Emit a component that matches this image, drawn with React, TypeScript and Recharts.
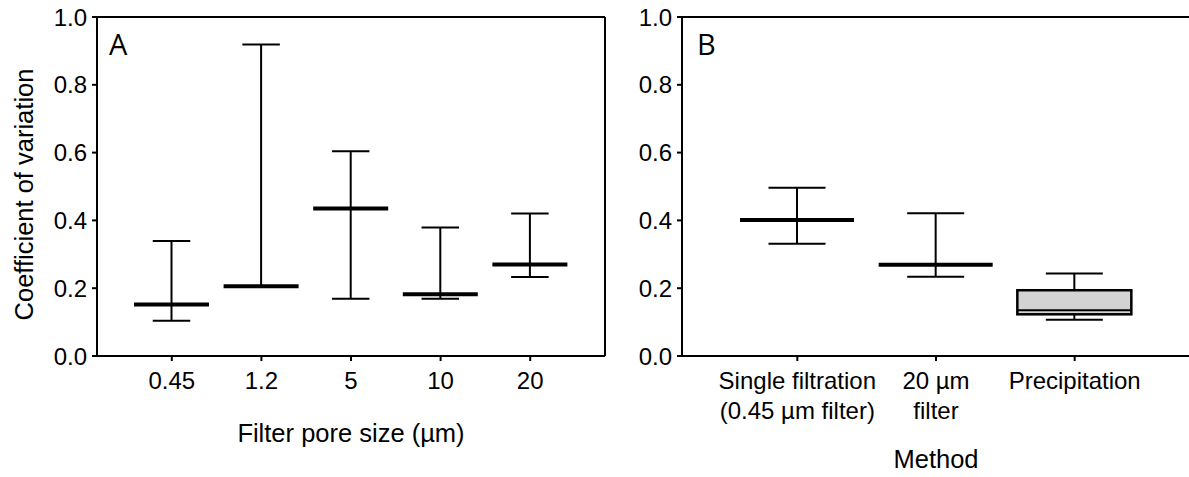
import { ComposedChart, Bar, XAxis, YAxis } from 'recharts';

// Panel A: filter pore size
const poreSizes = ['0.45', '1.2', '5', '10', '20'];
const poreMin = [0.104, 0.206, 0.169, 0.169, 0.233];
const poreQ1 = [0.152, 0.206, 0.435, 0.182, 0.27];
const poreMedian = [0.152, 0.206, 0.435, 0.182, 0.27];
const poreQ3 = [0.152, 0.206, 0.435, 0.182, 0.27];
const poreMax = [0.339, 0.919, 0.604, 0.379, 0.42];

// Panel B: method
const methods = ['Single filtration\n(0.45 µm filter)', '20 µm\nfilter', 'Precipitation'];
const methodMin = [0.331, 0.234, 0.107];
const methodQ1 = [0.401, 0.269, 0.123];
const methodMedian = [0.401, 0.269, 0.135];
const methodQ3 = [0.401, 0.269, 0.194];
const methodMax = [0.496, 0.421, 0.243];

const yTicks = [0, 0.2, 0.4, 0.6, 0.8, 1.0];

const INK = '#000';
const BOX_FILL = '#d3d3d3';
const TICK_FONT = 24;
const TITLE_FONT = 25.5;
const axisLine = { stroke: INK, strokeWidth: 2 };

function buildRows(names: string[], min: number[], q1: number[], med: number[], q3: number[], max: number[]) {
  return names.map((name, i) => ({
    name,
    range: [min[i], max[i]],
    min: min[i],
    q1: q1[i],
    median: med[i],
    q3: q3[i],
    max: max[i],
  }));
}

const poreRows = buildRows(poreSizes, poreMin, poreQ1, poreMedian, poreQ3, poreMax);
const methodRows = buildRows(methods, methodMin, methodQ1, methodMedian, methodQ3, methodMax);

// box + whiskers drawn inside the min..max range bar recharts gives us
function BoxShape(props: any) {
  const { x, y, width, height, payload } = props;
  const top = Math.min(y, y + height);
  const bottom = Math.max(y, y + height);
  const span = payload.max - payload.min;
  const py = (v: number) => (span === 0 ? bottom : bottom - ((v - payload.min) / span) * (bottom - top));
  const cx = x + width / 2;
  const cap = width * 0.5;
  const collapsed = payload.q3 === payload.q1;
  return (
    <g>
      <line x1={cx} x2={cx} y1={py(payload.max)} y2={py(payload.q3)} stroke={INK} strokeWidth={2} />
      <line x1={cx} x2={cx} y1={py(payload.q1)} y2={py(payload.min)} stroke={INK} strokeWidth={2} />
      <line x1={cx - cap / 2} x2={cx + cap / 2} y1={py(payload.max)} y2={py(payload.max)} stroke={INK} strokeWidth={2} />
      <line x1={cx - cap / 2} x2={cx + cap / 2} y1={py(payload.min)} y2={py(payload.min)} stroke={INK} strokeWidth={2} />
      {!collapsed && (
        <rect
          x={x}
          y={py(payload.q3)}
          width={width}
          height={py(payload.q1) - py(payload.q3)}
          fill={BOX_FILL}
          stroke={INK}
          strokeWidth={2.5}
        />
      )}
      <line
        x1={x}
        x2={x + width}
        y1={py(payload.median)}
        y2={py(payload.median)}
        stroke={INK}
        strokeWidth={collapsed ? 4 : 2}
      />
    </g>
  );
}

function CategoryTick(props: any) {
  const { x, y, payload } = props;
  const lines = String(payload.value).split('\n');
  return (
    <text x={x} y={y} textAnchor="middle" fontSize={TICK_FONT} fill={INK}>
      {lines.map((line, i) => (
        <tspan key={i} x={x} dy={i === 0 ? 24 : 29.5}>
          {line}
        </tspan>
      ))}
    </text>
  );
}

function YTitle(props: any) {
  const vb = props.viewBox;
  const x = vb.x + 33;
  const y = vb.y + vb.height / 2 + 8;
  return (
    <text x={x} y={y} transform={`rotate(-90 ${x} ${y})`} textAnchor="middle" fontSize={TITLE_FONT} fill={INK}>
      Coefficient of variation
    </text>
  );
}

// panel letter sits just inside the top-left corner of the frame
function PanelLetter(props: any) {
  const vb = props.viewBox;
  return (
    <text x={vb.x + props.dx} y={vb.y + vb.height + 38} fontSize={29} fontFamily='"Open Sans", sans-serif' fill={INK}>
      {props.letter}
    </text>
  );
}

export default function App() {
  return (
    <div
      style={{
        position: 'absolute',
        left: 0,
        top: 0,
        width: 1189,
        height: 477,
        overflow: 'hidden',
        background: '#fff',
        fontFamily: '"Liberation Sans", Arial, sans-serif',
      }}
    >
      {/* Panel A */}
      <div style={{ position: 'absolute', left: 0, top: 0 }}>
        <ComposedChart width={625} height={477} data={poreRows} margin={{ top: 16, right: 19, bottom: 5, left: 0 }}>
          <XAxis
            dataKey="name"
            height={116}
            interval={0}
            padding={{ left: 30, right: 30 }}
            axisLine={axisLine}
            tickLine={axisLine}
            tickSize={5}
            tickMargin={4}
            tick={<CategoryTick />}
            label={{ value: 'Filter pore size (µm)', position: 'insideBottom', offset: 30, fontSize: TITLE_FONT, fill: INK }}
          />
          <XAxis
            xAxisId="top"
            orientation="top"
            dataKey="name"
            height={1}
            tick={false}
            tickLine={false}
            axisLine={axisLine}
            label={<PanelLetter letter="A" dx={12} />}
          />
          <YAxis
            domain={[0, 1]}
            ticks={yTicks}
            width={97}
            axisLine={axisLine}
            tickLine={axisLine}
            tickSize={5}
            tickMargin={5}
            tick={{ fill: INK, fontSize: TICK_FONT }}
            tickFormatter={(v: number) => v.toFixed(1)}
            label={<YTitle />}
          />
          <YAxis
            yAxisId="right"
            orientation="right"
            domain={[0, 1]}
            width={1}
            tick={false}
            tickLine={false}
            axisLine={axisLine}
          />
          <Bar dataKey="range" barSize={75} shape={BoxShape} isAnimationActive={false} />
        </ComposedChart>
      </div>

      {/* Panel B */}
      <div style={{ position: 'absolute', left: 600, top: 0 }}>
        <ComposedChart width={600} height={477} data={methodRows} margin={{ top: 16, right: 10, bottom: 5, left: 0 }}>
          <XAxis
            dataKey="name"
            height={116}
            interval={0}
            padding={{ left: 46, right: 46 }}
            axisLine={axisLine}
            tickLine={axisLine}
            tickSize={5}
            tickMargin={4}
            tick={<CategoryTick />}
            label={{ value: 'Method', position: 'insideBottom', offset: 4, fontSize: TITLE_FONT, fill: INK }}
          />
          <XAxis
            xAxisId="top"
            orientation="top"
            dataKey="name"
            height={1}
            tick={false}
            tickLine={false}
            axisLine={axisLine}
            label={<PanelLetter letter="B" dx={15} />}
          />
          <YAxis
            domain={[0, 1]}
            ticks={yTicks}
            width={82}
            axisLine={axisLine}
            tickLine={axisLine}
            tickSize={5}
            tickMargin={5}
            tick={{ fill: INK, fontSize: TICK_FONT }}
            tickFormatter={(v: number) => v.toFixed(1)}
          />
          <Bar dataKey="range" barSize={114} shape={BoxShape} isAnimationActive={false} />
        </ComposedChart>
      </div>
    </div>
  );
}
